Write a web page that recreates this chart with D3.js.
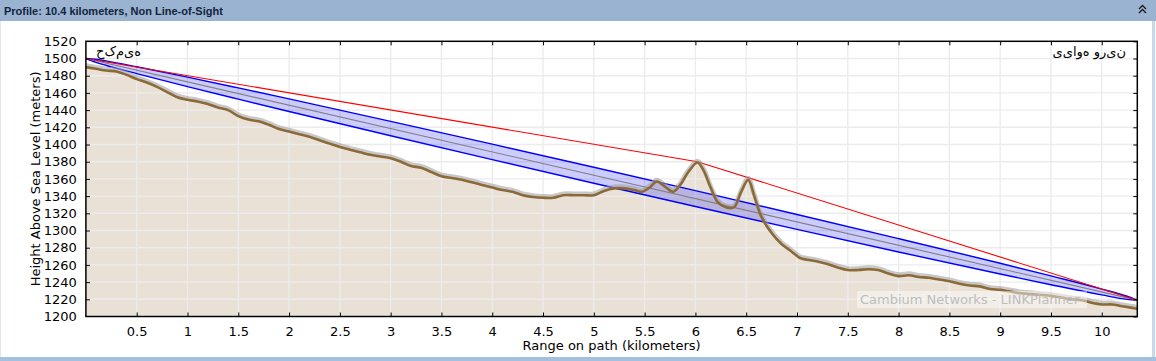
<!DOCTYPE html>
<html><head><meta charset="utf-8">
<script src="https://cdn.jsdelivr.net/npm/d3@7"></script>
<style>
html,body{margin:0;padding:0;background:#fff;}
svg{display:block;}
</style></head>
<body>
<svg id="c" width="1156" height="361"></svg>
<script>
// ---- data ----
const titleText = "Profile: 10.4 kilometers, Non Line-of-Sight";
const leftSite = "حکمیه";
const rightSite = "نیرو هوایی";
const xTicks = [0.5,1,1.5,2,2.5,3,3.5,4,4.5,5,5.5,6,6.5,7,7.5,8,8.5,9,9.5,10];
const xTickLabels = ["0.5","1","1.5","2","2.5","3","3.5","4","4.5","5","5.5","6","6.5","7","7.5","8","8.5","9","9.5","10"];
const yTicks = [1200,1220,1240,1260,1280,1300,1320,1340,1360,1380,1400,1420,1440,1460,1480,1500,1520];
const terrainDist = [0,0.1,0.2,0.3,0.4,0.5,0.6,0.7,0.8,0.9,1.0,1.1,1.2,1.3,1.4,1.5,1.6,1.7,1.8,1.9,2.0,2.1,2.2,2.3,2.4,2.5,2.6,2.7,2.8,2.9,3.0,3.1,3.2,3.3,3.4,3.5,3.6,3.7,3.8,3.9,4.0,4.1,4.2,4.3,4.4,4.5,4.6,4.7,4.8,4.9,5.0,5.1,5.2,5.3,5.4,5.47,5.55,5.62,5.7,5.78,5.85,5.93,6.02,6.08,6.15,6.22,6.3,6.38,6.45,6.52,6.58,6.65,6.75,6.85,6.93,7.03,7.1,7.2,7.3,7.4,7.5,7.6,7.7,7.8,7.9,8.0,8.1,8.2,8.3,8.4,8.5,8.6,8.7,8.8,8.9,9.0,9.1,9.2,9.3,9.4,9.5,9.6,9.7,9.8,9.9,10.0,10.1,10.2,10.3,10.35];
const terrainHeight = [1490,1488,1486,1485,1481,1476,1472,1467,1461,1455,1452,1450,1447,1443,1440,1433,1429,1427,1423,1418,1415,1412,1409,1405,1401,1397,1394,1391,1388,1386,1384,1380,1375,1373,1368,1363,1361,1359,1356,1353,1350,1347,1345,1341,1339,1338,1338,1341,1341,1341,1341,1346,1349,1349,1347,1345,1350,1357,1351,1345,1353,1368,1379,1370,1350,1333,1327,1327,1345,1359,1340,1316,1297,1284,1277,1268,1266,1264,1261,1257,1254,1254,1255,1254,1250,1247,1248,1246,1245,1243,1241,1238,1236,1235,1232,1231,1229,1227,1226,1225,1224,1222,1220,1219,1216,1214,1214,1212,1210,1209];
const losDist = [0, 10.35];
const losHeight = [1500, 1219];
const obstructDist = [0, 6.02, 10.35];
const obstructHeight = [1500, 1380, 1219];
const fresnelDist = [0,0.1,0.25,0.5,1,1.5,2,3,4,5,6,7,8,9,9.5,10,10.25,10.35];
const fresnelRadius = [0,1.8,2.9,4.0,5.5,6.5,7.3,8.4,9.0,9.3,9.2,8.7,7.8,6.3,5.1,3.4,1.8,0];
const watermark = "Cambium Networks - LINKPlanner";
const xTitle = "Range on path (kilometers)";
const yTitle = "Height Above Sea Level (meters)";

// ---- drawing ----
const svg = d3.select("#c");
const W = 1156, H = 361;
const L = 85.9, R = 1137.3, T = 41.3, B = 316.5;
const x = d3.scaleLinear().domain([0, 10.35]).range([L, R]);
const y = d3.scaleLinear().domain([1200, 1520]).range([B, T]);
const FONT = "'DejaVu Sans', sans-serif";

// title bar
svg.append("rect").attr("x",0).attr("y",0).attr("width",W).attr("height",21).attr("fill","#9ab3d1");
svg.append("text").attr("x",4).attr("y",14.5).attr("font-family","'Liberation Sans', Arial, sans-serif")
  .attr("font-weight","bold").attr("font-size",11).attr("fill","#14243a").text(titleText);
const chev = svg.append("g").attr("fill","none").attr("stroke","#1a1a1a").attr("stroke-width",1.3);
chev.append("path").attr("d","M1139,9 L1142.5,5.5 L1146,9");
chev.append("path").attr("d","M1139,13 L1142.5,9.5 L1146,13");
// panel borders
svg.append("rect").attr("x",1152).attr("y",21).attr("width",3).attr("height",H-21).attr("fill","#c5d8ee");
svg.append("rect").attr("x",0).attr("y",357).attr("width",W).attr("height",4).attr("fill","#a3c0e0");
svg.append("rect").attr("x",0).attr("y",21).attr("width",1).attr("height",336).attr("fill","#dfe6ef");

const clip = svg.append("defs").append("clipPath").attr("id","pc");
clip.append("rect").attr("x",L).attr("y",T).attr("width",R-L).attr("height",B-T);
const plot = svg.append("g").attr("clip-path","url(#pc)");

const terr = terrainDist.map((d,i)=>({d, h: terrainHeight[i]}));
const curve = d3.curveCatmullRom.alpha(0.5);
// terrain fill
plot.append("path").datum(terr)
  .attr("d", d3.area().x(p=>x(p.d)).y0(B).y1(p=>y(p.h)).curve(curve))
  .attr("fill","#e9e0d6");

// grid
plot.append("g").selectAll("line").data(xTicks).join("line")
  .attr("x1",d=>x(d)).attr("x2",d=>x(d)).attr("y1",T).attr("y2",B)
  .attr("stroke","#ececec").attr("stroke-width",1.4);
plot.append("g").selectAll("line").data(yTicks).join("line")
  .attr("x1",L).attr("x2",R).attr("y1",d=>y(d)).attr("y2",d=>y(d))
  .attr("stroke","#ececec").attr("stroke-width",1.4);

// fresnel zone
const losAt = d3.scaleLinear().domain(losDist).range(losHeight);
const fz = fresnelDist.map((d,i)=>({d, c: losAt(d), r: fresnelRadius[i]}));
const fcurve = d3.curveMonotoneX;
plot.append("path").datum(fz)
  .attr("d", d3.area().x(p=>x(p.d)).y0(p=>y(p.c-p.r)).y1(p=>y(p.c+p.r)).curve(fcurve))
  .attr("fill","#0000ff").attr("fill-opacity",0.2);
plot.append("path").datum(fz)
  .attr("d", d3.line().x(p=>x(p.d)).y(p=>y(p.c+p.r)).curve(fcurve))
  .attr("fill","none").attr("stroke","#0000ff").attr("stroke-width",1.4);
plot.append("path").datum(fz)
  .attr("d", d3.line().x(p=>x(p.d)).y(p=>y(p.c-p.r)).curve(fcurve))
  .attr("fill","none").attr("stroke","#0000ff").attr("stroke-width",1.4);
// line of sight
plot.append("path").datum(losDist.map((d,i)=>({d,h:losHeight[i]})))
  .attr("d", d3.line().x(p=>x(p.d)).y(p=>y(p.h)))
  .attr("fill","none").attr("stroke","#808080").attr("stroke-width",1.1);
// obstruction line
plot.append("path").datum(obstructDist.map((d,i)=>({d,h:obstructHeight[i]})))
  .attr("d", d3.line().x(p=>x(p.d)).y(p=>y(p.h)))
  .attr("fill","none").attr("stroke","#ff0000").attr("stroke-width",1.1);

// terrain line with shadow
const tline = d3.line().x(p=>x(p.d)).y(p=>y(p.h)).curve(curve);
plot.append("path").datum(terr).attr("d",tline).attr("transform","translate(0,-1.6)")
  .attr("fill","none").attr("stroke","#9a9a9a").attr("stroke-opacity",0.55).attr("stroke-width",4.5)
  .attr("stroke-linejoin","round");
plot.append("path").datum(terr).attr("d",tline)
  .attr("fill","none").attr("stroke","#8b6a37").attr("stroke-width",2.6).attr("stroke-linejoin","round");

// watermark
svg.append("rect").attr("x",857).attr("y",291).attr("width",230).attr("height",17)
  .attr("fill","#ffffff").attr("fill-opacity",0.45);
svg.append("text").attr("x",860).attr("y",304).attr("font-family",FONT).attr("font-size",13)
  .attr("fill","#bdbdbd").text(watermark);

// site labels
svg.append("text").attr("x",96).attr("y",56).attr("font-family",FONT).attr("font-size",13)
  .attr("fill","#000").attr("direction","ltr").attr("unicode-bidi","bidi-override")
  .style("font-feature-settings","'init' 0, 'medi' 0, 'fina' 0")
  .text(leftSite);
svg.append("text").attr("x",1126).attr("y",56).attr("text-anchor","end").attr("font-family",FONT).attr("font-size",13)
  .attr("fill","#000")
  .style("font-feature-settings","'init' 0, 'medi' 0, 'fina' 0")
  .text(rightSite);

// axes
const xb = svg.append("g").attr("transform",`translate(0,${B})`)
  .call(d3.axisBottom(x).tickValues(xTicks).tickFormat((d,i)=>xTickLabels[i]).tickSizeInner(-4).tickSizeOuter(0).tickPadding(10));
const xt = svg.append("g").attr("transform",`translate(0,${T})`)
  .call(d3.axisTop(x).tickValues(xTicks).tickFormat("").tickSizeInner(-4).tickSizeOuter(0));
const yl = svg.append("g").attr("transform",`translate(${L},0)`)
  .call(d3.axisLeft(y).tickValues(yTicks).tickFormat(d3.format("d")).tickSizeInner(-4).tickSizeOuter(0).tickPadding(9));
const yr = svg.append("g").attr("transform",`translate(${R},0)`)
  .call(d3.axisRight(y).tickValues(yTicks).tickFormat("").tickSizeInner(-4).tickSizeOuter(0));
[xb,xt,yl,yr].forEach(g=>{
  g.select(".domain").remove();
  g.selectAll(".tick line").attr("stroke","#000").attr("stroke-width",1);
  g.selectAll("text").attr("font-family",FONT).attr("font-size",13).attr("fill","#000");
});
yl.selectAll(".tick").filter(d=>d===1520||d===1200).select("line").remove();
svg.append("rect").attr("x",L).attr("y",T).attr("width",R-L).attr("height",B-T)
  .attr("fill","none").attr("stroke","#000").attr("stroke-width",1.5);

// axis titles
svg.append("text").attr("x",(L+R)/2).attr("y",350).attr("text-anchor","middle")
  .attr("font-family",FONT).attr("font-size",13).attr("fill","#000").text(xTitle);
svg.append("text").attr("transform",`translate(40,${(T+B)/2}) rotate(-90)`).attr("text-anchor","middle")
  .attr("font-family",FONT).attr("font-size",13).attr("fill","#000").text(yTitle);
</script>
</body></html>
